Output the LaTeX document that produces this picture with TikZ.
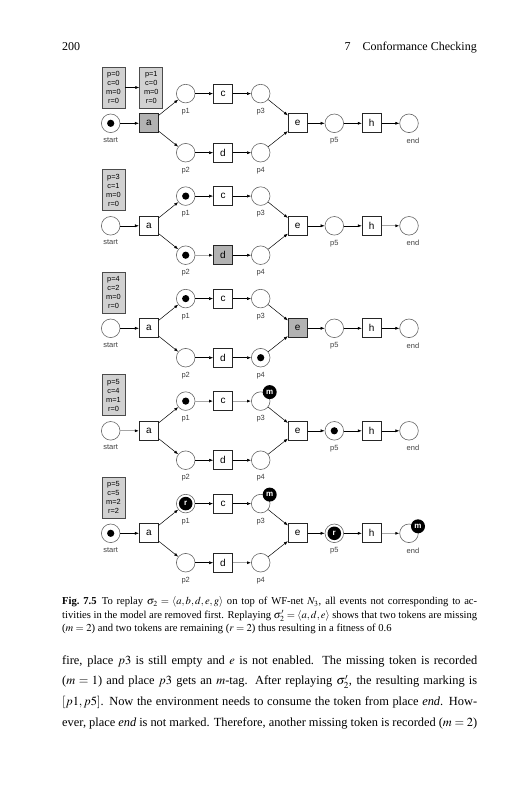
\documentclass[tikz,border=0pt]{standalone}
\usepackage{mathptmx}
\usepackage{fontspec}
\setmainfont{Liberation Serif}
\newfontfamily\netfont{Liberation Sans}
\usetikzlibrary{arrows.meta}
\tikzset{
  place/.style={circle,draw=black!60,line width=0.6,minimum size=18.6,inner sep=0},
  trans/.style={rectangle,draw=black!85,line width=0.7,fill=white,minimum size=19,inner sep=0,font=\netfont\fontsize{10}{10}\selectfont},
  fired/.style={fill=black!30},
  tok/.style={path picture={\fill (path picture bounding box.center) circle (3.6pt);}},
  rtag/.style={text=white,font=\netfont\bfseries\fontsize{8}{8}\selectfont,path picture={\fill (path picture bounding box.center) circle (6.8pt);}},
  mtag/.style={circle,fill=black,text=white,inner sep=0,minimum size=14,font=\netfont\bfseries\fontsize{8}{8}\selectfont},
  lbl/.style={font=\netfont\fontsize{7.5}{7.5}\selectfont,text=black!75,inner sep=0,label distance=4.5},
  stat/.style={rectangle,draw=black!70,line width=0.9,fill=black!18,minimum width=23,minimum height=41,inner sep=0,align=center,font=\netfont\fontsize{7.4}{9}\selectfont},
  arc/.style={-{Latex[length=4,width=3]},line width=0.5},
  faint/.style={-{Latex[length=4,width=3,color=black]},draw=black!35,line width=1.2},
}
\begin{document}
\begin{tikzpicture}[x=1pt,y=-1pt]
\useasboundingbox (0,0) rectangle (527,800);
%head
\node[anchor=base west,inner sep=0,font=\fontsize{12}{14}\selectfont] (folio) at (62,51) {200};
\node[anchor=base east,inner sep=0,font=\fontsize{12}{14}\selectfont] (runhead) at (477,51) {7\quad Conformance Checking};

%net 1
\node[stat] (s0-1) at (113.5,87.5) {p=0\\c=0\\m=0\\r=0};
\node[stat] (s1-1) at (151.3,87.5) {p=1\\c=0\\m=0\\r=0};
\node[place,tok,label={[lbl]below:start}] (start-1) at (110.7,123.3) {};
\node[trans,fired] (a-1) at (148.8,123.3) {a};
\node[place,label={[lbl]below:p1}] (p1-1) at (185.7,93.6) {};
\node[trans] (c-1) at (223,93.6) {c};
\node[place,label={[lbl]below:p3}] (p3-1) at (260.7,93.6) {};
\node[place,label={[lbl]below:p2}] (p2-1) at (185.7,152.7) {};
\node[trans] (d-1) at (223,152.7) {d};
\node[place,label={[lbl]below:p4}] (p4-1) at (260.7,152.7) {};
\node[trans] (e-1) at (297.7,123.3) {e};
\node[place,label={[lbl]below:p5}] (p5-1) at (334.3,123.3) {};
\node[trans] (h-1) at (371.7,123.3) {h};
\node[place,label={[lbl,xshift=4]below:end}] (end-1) at (409,123.3) {};
%arcs
\draw[arc] (s0-1) -- (s1-1);
\draw[arc] (start-1) -- (a-1);
\draw[arc] (a-1) -- (p1-1);
\draw[arc] (a-1) -- (p2-1);
\draw[arc] (p1-1) -- (c-1);
\draw[arc] (c-1) -- (p3-1);
\draw[arc] (p2-1) -- (d-1);
\draw[arc] (d-1) -- (p4-1);
\draw[arc] (p3-1) -- (e-1);
\draw[arc] (p4-1) -- (e-1);
\draw[arc] (e-1) -- (p5-1);
\draw[arc] (p5-1) -- (h-1);
\draw[arc] (h-1) -- (end-1);

%net 2
\node[stat] (s-2) at (113.5,190) {p=3\\c=1\\m=0\\r=0};
\node[place,label={[lbl]below:start}] (start-2) at (110.7,225.8) {};
\node[trans] (a-2) at (148.8,225.8) {a};
\node[place,tok,label={[lbl]below:p1}] (p1-2) at (185.7,196.1) {};
\node[trans] (c-2) at (223,196.1) {c};
\node[place,label={[lbl]below:p3}] (p3-2) at (260.7,196.1) {};
\node[place,tok,label={[lbl]below:p2}] (p2-2) at (185.7,255.2) {};
\node[trans,fired] (d-2) at (223,255.2) {d};
\node[place,label={[lbl]below:p4}] (p4-2) at (260.7,255.2) {};
\node[trans] (e-2) at (297.7,225.8) {e};
\node[place,label={[lbl]below:p5}] (p5-2) at (334.3,225.8) {};
\node[trans] (h-2) at (371.7,225.8) {h};
\node[place,label={[lbl,xshift=4]below:end}] (end-2) at (409,225.8) {};
%arcs
\draw[arc] (start-2) -- (a-2);
\draw[arc] (a-2) -- (p1-2);
\draw[arc] (a-2) -- (p2-2);
\draw[arc] (p1-2) -- (c-2);
\draw[arc] (c-2) -- (p3-2);
\draw[faint] (p2-2) -- (d-2);
\draw[arc] (d-2) -- (p4-2);
\draw[arc] (p3-2) -- (e-2);
\draw[arc] (p4-2) -- (e-2);
\draw[arc] (e-2) -- (p5-2);
\draw[arc] (p5-2) -- (h-2);
\draw[faint] (h-2) -- (end-2);

%net 3
\node[stat] (s-3) at (113.5,292.5) {p=4\\c=2\\m=0\\r=0};
\node[place,label={[lbl]below:start}] (start-3) at (110.7,328.3) {};
\node[trans] (a-3) at (148.8,328.3) {a};
\node[place,tok,label={[lbl]below:p1}] (p1-3) at (185.7,298.6) {};
\node[trans] (c-3) at (223,298.6) {c};
\node[place,label={[lbl]below:p3}] (p3-3) at (260.7,298.6) {};
\node[place,label={[lbl]below:p2}] (p2-3) at (185.7,357.7) {};
\node[trans] (d-3) at (223,357.7) {d};
\node[place,tok,label={[lbl]below:p4}] (p4-3) at (260.7,357.7) {};
\node[trans,fired] (e-3) at (297.7,328.3) {e};
\node[place,label={[lbl]below:p5}] (p5-3) at (334.3,328.3) {};
\node[trans] (h-3) at (371.7,328.3) {h};
\node[place,label={[lbl,xshift=4]below:end}] (end-3) at (409,328.3) {};
%arcs
\draw[arc] (start-3) -- (a-3);
\draw[arc] (a-3) -- (p1-3);
\draw[arc] (a-3) -- (p2-3);
\draw[arc] (p1-3) -- (c-3);
\draw[arc] (c-3) -- (p3-3);
\draw[arc] (p2-3) -- (d-3);
\draw[arc] (d-3) -- (p4-3);
\draw[arc] (p3-3) -- (e-3);
\draw[arc] (p4-3) -- (e-3);
\draw[arc] (e-3) -- (p5-3);
\draw[arc] (p5-3) -- (h-3);
\draw[arc] (h-3) -- (end-3);

%net 4
\node[stat] (s-4) at (113.5,395) {p=5\\c=4\\m=1\\r=0};
\node[place,label={[lbl]below:start}] (start-4) at (110.7,430.8) {};
\node[trans] (a-4) at (148.8,430.8) {a};
\node[place,tok,label={[lbl]below:p1}] (p1-4) at (185.7,401.1) {};
\node[trans] (c-4) at (223,401.1) {c};
\node[place,label={[lbl]below:p3}] (p3-4) at (260.7,401.1) {};
\node[place,label={[lbl]below:p2}] (p2-4) at (185.7,460.2) {};
\node[trans] (d-4) at (223,460.2) {d};
\node[place,label={[lbl]below:p4}] (p4-4) at (260.7,460.2) {};
\node[trans] (e-4) at (297.7,430.8) {e};
\node[place,tok,label={[lbl]below:p5}] (p5-4) at (334.3,430.8) {};
\node[trans] (h-4) at (371.7,430.8) {h};
\node[place,label={[lbl,xshift=4]below:end}] (end-4) at (409,430.8) {};
\node[mtag] (m3-4) at ([shift={(9,-9)}]p3-4.center) {m};
%arcs
\draw[faint] (start-4) -- (a-4);
\draw[arc] (a-4) -- (p1-4);
\draw[arc] (a-4) -- (p2-4);
\draw[faint] (p1-4) -- (c-4);
\draw[faint] (c-4) -- (p3-4);
\draw[arc] (p2-4) -- (d-4);
\draw[arc] (d-4) -- (p4-4);
\draw[arc] (p3-4) -- (e-4);
\draw[arc] (p4-4) -- (e-4);
\draw[arc] (e-4) -- (p5-4);
\draw[arc] (p5-4) -- (h-4);
\draw[arc] (h-4) -- (end-4);

%net 5
\node[stat] (s-5) at (113.5,497.5) {p=5\\c=5\\m=2\\r=2};
\node[place,tok,label={[lbl]below:start}] (start-5) at (110.7,533.3) {};
\node[trans] (a-5) at (148.8,533.3) {a};
\node[place,rtag,label={[lbl]below:p1}] (p1-5) at (185.7,503.6) {r};
\node[trans] (c-5) at (223,503.6) {c};
\node[place,label={[lbl]below:p3}] (p3-5) at (260.7,503.6) {};
\node[place,label={[lbl]below:p2}] (p2-5) at (185.7,562.7) {};
\node[trans] (d-5) at (223,562.7) {d};
\node[place,label={[lbl]below:p4}] (p4-5) at (260.7,562.7) {};
\node[trans] (e-5) at (297.7,533.3) {e};
\node[place,rtag,label={[lbl]below:p5}] (p5-5) at (334.3,533.3) {r};
\node[trans] (h-5) at (371.7,533.3) {h};
\node[place,label={[lbl,xshift=4]below:end}] (end-5) at (409,533.3) {};
\node[mtag] (m3-5) at ([shift={(9,-9)}]p3-5.center) {m};
\node[mtag] (mend-5) at ([shift={(9,-7)}]end-5.center) {m};
%arcs
\draw[arc] (start-5) -- (a-5);
\draw[arc] (a-5) -- (p1-5);
\draw[arc] (a-5) -- (p2-5);
\draw[arc] (p1-5) -- (c-5);
\draw[arc] (c-5) -- (p3-5);
\draw[arc] (p2-5) -- (d-5);
\draw[faint] (d-5) -- (p4-5);
\draw[arc] (p3-5) -- (e-5);
\draw[arc] (p4-5) -- (e-5);
\draw[arc] (e-5) -- (p5-5);
\draw[arc] (p5-5) -- (h-5);
\draw[faint] (h-5) -- (end-5);

%caption
\node[anchor=base west,inner sep=0,text width=415,align=justify,font=\fontsize{10.6}{13.5}\selectfont] (caption) at (62,604.5)
{\textbf{Fig.~7.5}\enskip To replay $\sigma_2=\langle a,b,d,e,g\rangle$ on top of WF-net $N_3$, all events not corresponding to ac-\linebreak tivities in the model are removed first. Replaying $\sigma_2'=\langle a,d,e\rangle$ shows that two tokens are missing\linebreak ($m=2$) and two tokens are remaining ($r=2$) thus resulting in a fitness of 0.6};
%text
\node[anchor=base west,inner sep=0,text width=415,align=justify,font=\fontsize{12.4}{20.9}\selectfont] (body) at (62,664)
{\parfillskip=0pt fire, place $p3$ is still empty and $e$ is not enabled. The missing token is recorded\linebreak ($m=1$) and place $p3$ gets an $m$-tag. After replaying $\sigma_2'$, the resulting marking is\linebreak $[p1,p5]$. Now the environment needs to consume the token from place \emph{end}. How-\linebreak ever, place \emph{end} is not marked. Therefore, another missing token is recorded ($m=2$)\par};
\end{tikzpicture}
\end{document}
